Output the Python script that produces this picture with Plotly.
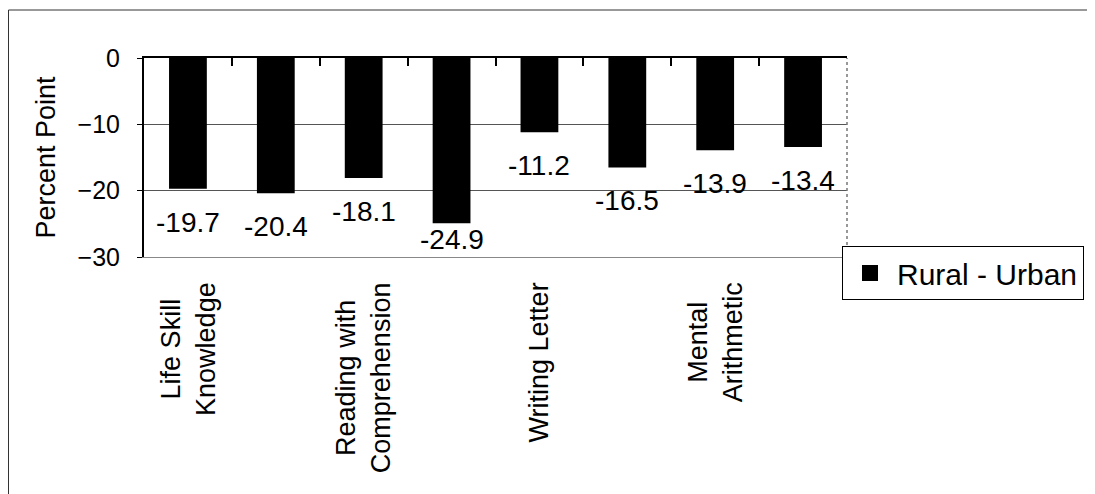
import plotly.graph_objects as go

categories = ["Life Skill<br>Knowledge", "", "Reading with<br>Comprehension", "",
              "Writing Letter", "", "Mental<br>Arithmetic", ""]
values = [-19.7, -20.4, -18.1, -24.9, -11.2, -16.5, -13.9, -13.4]
value_labels = ["-19.7", "-20.4", "-18.1", "-24.9", "-11.2", "-16.5", "-13.9", "-13.4"]
series_name = "Rural - Urban"
y_ticks = [0, -10, -20, -30]
y_min, y_max = -30, 0

positions = list(range(len(values)))
font = "Liberation Sans, Arial, sans-serif"

# page body has an 8px default margin; size the figure to fit the 1095x494 window
W, H = 1087, 486
ML, MR, MT, MB = 136, 248, 50, 237
plot_h = H - MT - MB
px_per_unit = plot_h / (y_max - y_min)

fig = go.Figure()
fig.add_trace(go.Bar(
    x=positions, y=values, name=series_name,
    marker=dict(color="black", line=dict(width=0)),
    width=0.43, showlegend=False,
))
# legend entry with a larger square swatch
fig.add_trace(go.Scatter(
    x=[None], y=[None], mode="markers", name=series_name,
    marker=dict(symbol="square", size=30, color="black"),
))
# invisible helper trace for the top tick-mark axis
fig.add_trace(go.Scatter(x=[positions[0]], y=[0], xaxis="x2", mode="markers",
                         marker=dict(opacity=0), showlegend=False, hoverinfo="skip"))

annotations = []
# value labels under the bar ends
label_room = 46 / px_per_unit  # room a label needs below the bar end, in data units
for p, v, t in zip(positions, values, value_labels):
    if v - label_room < y_min:
        a = dict(y=y_min, yanchor="bottom", yshift=0)
    else:
        a = dict(y=v, yanchor="top", yshift=-16)
    a.update(x=p, xref="x", yref="y", text=t, showarrow=False, xanchor="center",
             font=dict(size=28, family=font, color="black"))
    annotations.append(a)
# category captions (centred multi-line, rotated) under the axis
for p, c in zip(positions, categories):
    if c:
        annotations.append(dict(
            x=p, xref="x", y=0, yref="paper", yanchor="top", xanchor="center",
            yshift=-23, text=c, textangle=-90, align="center", showarrow=False,
            font=dict(size=27, family=font, color="black"),
        ))

fig.update_layout(
    width=W, height=H,
    margin=dict(l=ML, r=MR, t=MT, b=MB, autoexpand=False),
    paper_bgcolor="white", plot_bgcolor="white",
    font=dict(family=font, size=24, color="black"),
    showlegend=True,
    xaxis=dict(
        range=[-0.5, 7.5],
        tickmode="array", tickvals=positions, ticktext=[""] * len(positions),
        ticks="",
        showgrid=False, zeroline=False,
        showline=True, linecolor="#888888", linewidth=1,
        automargin=False,
    ),
    xaxis2=dict(
        overlaying="x", side="top", range=[-0.5, 7.5],
        tickmode="array", tickvals=[p + 0.5 for p in positions[:-1]],
        ticktext=[""] * (len(positions) - 1),
        ticks="inside", ticklen=8, tickwidth=2, tickcolor="black",
        showline=True, linecolor="black", linewidth=2,
        showgrid=False, zeroline=False, anchor="y", automargin=False,
    ),
    yaxis=dict(
        range=[y_min, y_max],
        tickmode="array", tickvals=y_ticks,
        ticks="outside", ticklen=5, tickcolor="black",
        ticklabelstandoff=12,
        showline=True, linecolor="black", linewidth=2,
        showgrid=True, gridcolor="#555555", gridwidth=1,
        zeroline=False,
        title=dict(text="Percent Point", font=dict(size=27, family=font), standoff=14),
        tickfont=dict(size=25, family=font),
        automargin=False,
    ),
    legend=dict(
        xref="container", yref="container",
        x=834 / W, y=1 - 238 / H, xanchor="left", yanchor="top",
        bgcolor="white", bordercolor="black", borderwidth=1,
        font=dict(size=30, family=font),
        itemwidth=44, tracegroupgap=0,
    ),
    annotations=annotations,
    shapes=[
        dict(type="rect", xref="paper", yref="paper",
             x0=(0.5 - ML) / (W - ML - MR), x1=1.4, y0=-1.4, y1=(H - MB - 2) / plot_h,
             line=dict(color="#333333", width=1), fillcolor="rgba(0,0,0,0)", layer="below"),
        dict(type="line", xref="paper", yref="paper", x0=1, x1=1, y0=0, y1=1,
             line=dict(color="#777777", width=1.5, dash="dot")),
    ],
)

fig.write_html("out.html")
